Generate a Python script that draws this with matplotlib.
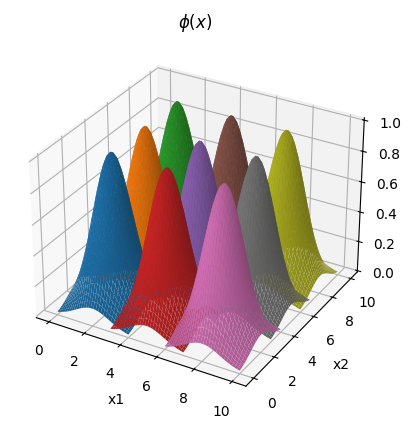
import matplotlib
matplotlib.use('Agg')
import matplotlib.pyplot as plt
import numpy as np

centers_x1 = [2, 2, 2, 5, 5, 5, 8, 8, 8]
centers_x2 = [2, 5, 8, 2, 5, 8, 2, 5, 8]
sigma = 0.95
half = 2.0

fig = plt.figure(figsize=(4.1, 4.21), dpi=100)
ax = fig.add_subplot(projection='3d')
colors = plt.rcParams['axes.prop_cycle'].by_key()['color']
for i, (c1, c2) in enumerate(zip(centers_x1, centers_x2)):
    g1 = np.linspace(max(c1 - half, 0), min(c1 + half, 10), 30)
    g2 = np.linspace(max(c2 - half, 0), min(c2 + half, 10), 30)
    X1, X2 = np.meshgrid(g1, g2)
    Z = np.exp(-((X1 - c1) ** 2 + (X2 - c2) ** 2) / (2 * sigma ** 2))
    ax.plot_surface(X1, X2, Z, color=colors[i])
ax.set_xlabel('x1')
ax.set_ylabel('x2')
ax.set_xticks([0, 2, 4, 6, 8, 10])
ax.set_yticks([0, 2, 4, 6, 8, 10])
ax.set_title(r'$\phi(x)$')
fig.subplots_adjust(left=0.02, right=0.93, bottom=0.0, top=0.94)
fig.savefig('out.png')
